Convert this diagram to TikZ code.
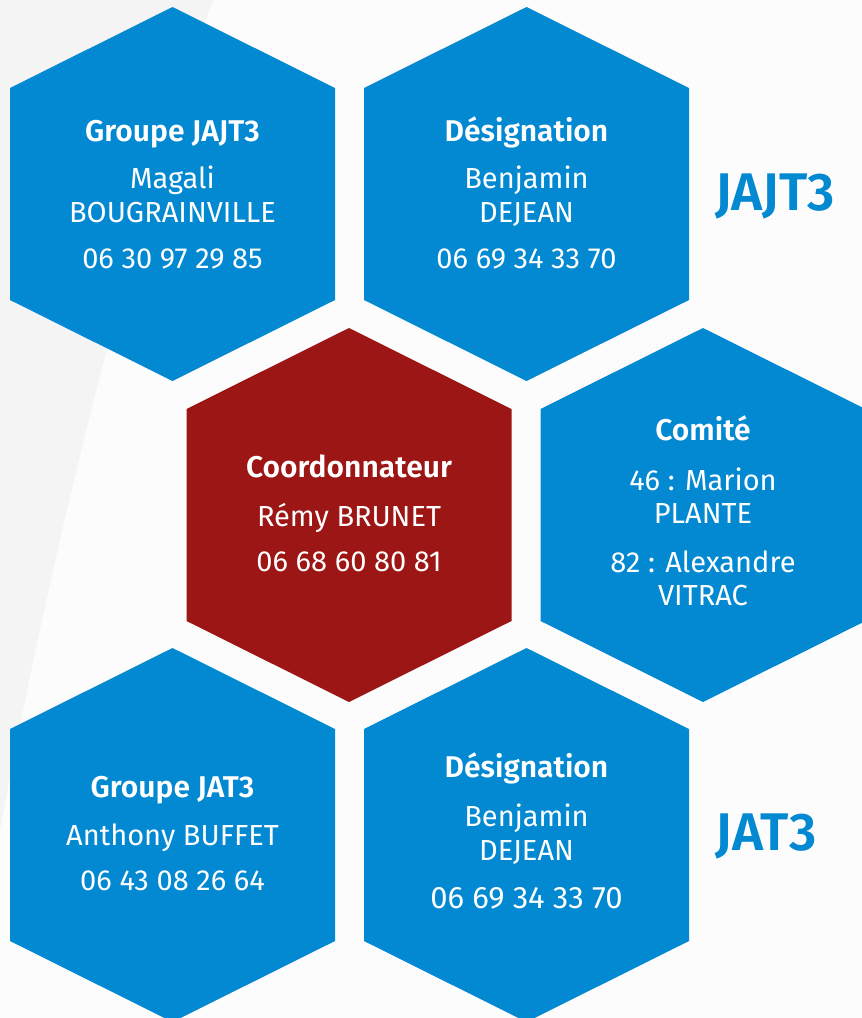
\documentclass[tikz,border=0pt]{standalone}
\usepackage{fontspec}
\setmainfont{Fira Sans}[BoldFont={Fira Sans SemiBold}]
\usetikzlibrary{calc}
\definecolor{hexblue}{RGB}{3,137,210}
\definecolor{hexred}{RGB}{155,22,20}
\definecolor{bgwhite}{RGB}{252,252,252}
\definecolor{bggrey}{RGB}{244,244,244}
\tikzset{
  hexfill/.style={fill=#1},
  txt/.style={text=white, inner sep=0pt, anchor=base, font=\fontsize{29}{31}\selectfont},
  txtbig/.style={txt, font=\fontsize{31}{33}\selectfont},
  hd/.style={txt, font=\fontsize{30}{32}\selectfont\bfseries},
  biglab/.style={text=hexblue, inner sep=0pt, anchor=base, font=\fontsize{53}{56}\selectfont\bfseries},
}
\newcommand\hexshape[2]{%
  \fill[hexfill=#2] (#1) ++(0,-187) -- ++(162.5,81) -- ++(0,212) -- ++(-162.5,81)
     -- ++(-162.5,-81) -- ++(0,-212) -- cycle;}
\begin{document}
\begin{tikzpicture}[x=1pt,y=-1pt]
\useasboundingbox (0,0) rectangle (862,1018);
\clip (0,0) rectangle (862,1018);
% background
\fill[bgwhite] (0,0) rectangle (862,1018);
\fill[bggrey] (0,0) -- (213,0) .. controls (150,170) and (60,500) .. (0,830) -- cycle;
% hexagon centres
\coordinate (h1) at (172.5,194);
\coordinate (h2) at (526.5,194);
\coordinate (h3) at (349,515);
\coordinate (h4) at (703,515);
\coordinate (h5) at (172.5,835);
\coordinate (h6) at (526.5,835);
\hexshape{h1}{hexblue}
\hexshape{h2}{hexblue}
\hexshape{h3}{hexred}
\hexshape{h4}{hexblue}
\hexshape{h5}{hexblue}
\hexshape{h6}{hexblue}
% hex 1
\node[hd]  (t1a) at (172.5,141) {Groupe JAJT3};
\node[txt] (t1b) at (172.5,188) {Magali};
\node[txt] (t1c) at (172.5,222) {BOUGRAINVILLE};
\node[txt] (t1d) at (172.5,268) {06 30 97 29 85};
% hex 2
\node[hd]  (t2a) at (526.5,141) {Désignation};
\node[txt] (t2b) at (526.5,188) {Benjamin};
\node[txt] (t2c) at (526.5,222) {DEJEAN};
\node[txt] (t2d) at (526.5,268) {06 69 34 33 70};
% hex 3 (red)
\node[hd]  (t3a) at (349,477) {Coordonnateur};
\node[txt] (t3b) at (349,526) {Rémy BRUNET};
\node[txt] (t3c) at (349,571) {06 68 60 80 81};
% hex 4
\node[hd]  (t4a) at (703,440) {Comité};
\node[txt] (t4b) at (703,490) {46 : Marion};
\node[txt] (t4c) at (703,523) {PLANTE};
\node[txt] (t4d) at (703,572) {82 : Alexandre};
\node[txt] (t4e) at (703,605) {VITRAC};
% hex 5
\node[hd]  (t5a) at (172.5,797) {Groupe JAT3};
\node[txt] (t5b) at (172.5,845) {Anthony BUFFET};
\node[txt] (t5c) at (172.5,890) {06 43 08 26 64};
% hex 6
\node[hd]  (t6a) at (526.5,777) {Désignation};
\node[txt] (t6b) at (526.5,826) {Benjamin};
\node[txt] (t6c) at (526.5,860) {DEJEAN};
\node[txtbig] (t6d) at (526.5,908) {06 69 34 33 70};
% side labels
\node[biglab] (lab1) at (775,210) {JAJT3};
\node[biglab] (lab2) at (766,850) {JAT3};
\end{tikzpicture}
\end{document}
